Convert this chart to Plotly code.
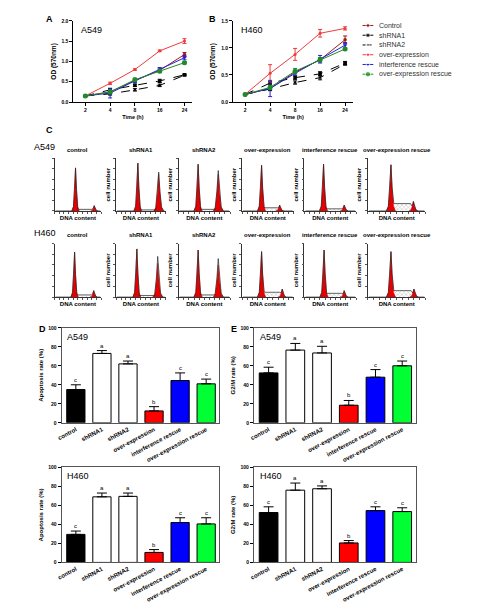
import plotly.graph_objects as go

W, H = 482, 608
FONT = "Liberation Sans, Arial, sans-serif"


def px(x):
    return x / W


def py(y):
    return 1 - y / H


# ---------------- data: growth curves (A, B) ----------------
time_labels = ["2", "4", "8", "16", "24"]
series_names = ["Control", "shRNA1", "shRNA2", "over-expression",
                "interference rescue", "over-expression rescue"]

a549_control = [0.15, 0.25, 0.53, 0.78, 1.17]
a549_shrna1 = [0.15, 0.30, 0.41, 0.52, 0.67]
a549_shrna2 = [0.15, 0.20, 0.30, 0.41, 0.66]
a549_over = [0.15, 0.46, 0.80, 1.26, 1.50]
a549_interf = [0.15, 0.22, 0.52, 0.80, 1.09]
a549_overres = [0.15, 0.25, 0.55, 0.76, 0.97]
a549_control_err = [0.01, 0.03, 0.03, 0.03, 0.05]
a549_shrna1_err = [0.01, 0.03, 0.03, 0.04, 0.02]
a549_shrna2_err = [0.01, 0.03, 0.03, 0.03, 0.02]
a549_over_err = [0.01, 0.03, 0.02, 0.02, 0.06]
a549_interf_err = [0.01, 0.12, 0.04, 0.05, 0.05]
a549_overres_err = [0.01, 0.05, 0.04, 0.03, 0.03]

h460_control = [0.14, 0.25, 0.55, 0.78, 1.15]
h460_shrna1 = [0.14, 0.35, 0.45, 0.52, 0.72]
h460_shrna2 = [0.14, 0.24, 0.36, 0.45, 0.70]
h460_over = [0.14, 0.53, 0.88, 1.27, 1.36]
h460_interf = [0.14, 0.25, 0.53, 0.79, 1.05]
h460_overres = [0.14, 0.27, 0.57, 0.78, 0.98]
h460_control_err = [0.01, 0.03, 0.03, 0.04, 0.07]
h460_shrna1_err = [0.01, 0.03, 0.03, 0.04, 0.03]
h460_shrna2_err = [0.01, 0.03, 0.03, 0.04, 0.02]
h460_over_err = [0.01, 0.16, 0.11, 0.07, 0.03]
h460_interf_err = [0.01, 0.15, 0.04, 0.07, 0.05]
h460_overres_err = [0.01, 0.04, 0.05, 0.04, 0.02]

# ---------------- data: cell cycle histograms (C) ----------------
hist_titles = ["control", "shRNA1", "shRNA2", "over-expression",
               "interference rescue", "over-expression rescue"]
a549_g1_pos = [0.45, 0.44, 0.38, 0.38, 0.37, 0.40]
a549_g1_h = [0.82, 0.91, 0.89, 0.87, 0.89, 0.88]
a549_g2_pos = [0.85, 0.86, 0.77, 0.73, 0.77, 0.79]
a549_g2_h = [0.10, 0.70, 0.70, 0.11, 0.11, 0.18]
a549_g2_fit = [0.10, 0.74, 0.77, 0.11, 0.11, 0.18]
a549_s_h = [0.03, 0.02, 0.03, 0.06, 0.04, 0.14]

h460_g1_pos = [0.43, 0.42, 0.38, 0.38, 0.38, 0.40]
h460_g1_h = [0.84, 0.90, 0.88, 0.85, 0.88, 0.85]
h460_g2_pos = [0.84, 0.84, 0.77, 0.78, 0.77, 0.80]
h460_g2_h = [0.12, 0.63, 0.60, 0.15, 0.12, 0.15]
h460_g2_fit = [0.12, 0.76, 0.72, 0.15, 0.12, 0.15]
h460_s_h = [0.04, 0.03, 0.04, 0.09, 0.07, 0.12]

# ---------------- data: apoptosis / G2M bars (D, E) ----------------
bar_categories = ["control", "shRNA1", "shRNA2", "over-expression",
                  "interference rescue", "over-expression rescue"]
bar_letters = ["c", "a", "a", "b", "c", "c"]
apop_a549 = [35, 73, 62, 12.5, 44.5, 41]
apop_a549_err = [5, 3, 3, 4.5, 8, 5]
apop_h460 = [29.5, 69, 69.5, 10.5, 42, 40.5]
apop_h460_err = [3.5, 4, 3.5, 3, 5, 6.5]
g2m_a549 = [52.5, 76.5, 73.5, 18.5, 48, 60]
g2m_a549_err = [6, 7, 7, 5, 8, 5]
g2m_h460 = [52.5, 76, 77.5, 20.5, 54.5, 53.5]
g2m_h460_err = [6, 7.5, 3, 2.5, 4, 4]

# ---------------- styles ----------------
line_colors = ["#9e1b1b", "#000000", "#000000", "#f03a3a", "#2323d8", "#1f8a2a"]
line_dash = ["solid", "dash", "dash", "solid", "solid", "solid"]
line_symbols = ["circle", "square", "triangle-up", "circle", "triangle-down", "circle"]
line_msize = [3.5, 3.5, 3.5, 3, 4, 5]
bar_colors = ["#000000", "#ffffff", "#ffffff", "#ff0000", "#0000ff", "#00ff33"]

fig = go.Figure()
axis_n = [0]
layout_upd = {}


def new_axes(x0, x1, y0, y1, xkw, ykw):
    axis_n[0] += 1
    n = axis_n[0]
    xa = "xaxis" if n == 1 else "xaxis%d" % n
    ya = "yaxis" if n == 1 else "yaxis%d" % n
    xr = "x" if n == 1 else "x%d" % n
    yr = "y" if n == 1 else "y%d" % n
    layout_upd[xa] = dict(domain=[px(x0), px(x1)], anchor=yr, **xkw)
    layout_upd[ya] = dict(domain=[py(y1), py(y0)], anchor=xr, **ykw)
    return xr, yr


annotations = []


def text(x, y, s, size=7, bold=False, xanchor="left", angle=0, color="black"):
    annotations.append(dict(
        x=px(x), y=py(y), xref="paper", yref="paper", text=("<b>%s</b>" % s) if bold else s,
        showarrow=False, xanchor=xanchor, yanchor="middle", textangle=angle,
        font=dict(family=FONT, size=size, color=color)))


# ---------------- growth curves ----------------
def growth_panel(x0, x1, y0, y1, ymax, ytick_vals, ytick_text, cell, series, errs):
    xkw = dict(type="category", range=[-0.48, 4.32], showline=True, linecolor="black",
               linewidth=1, ticks="outside", ticklen=3, tickcolor="black",
               tickfont=dict(family=FONT, size=5, weight="bold"), showgrid=False, zeroline=False,
               title=dict(text="<b>Time (h)</b>", font=dict(family=FONT, size=5.5), standoff=3))
    ykw = dict(range=[0, ymax], showline=True, linecolor="black", linewidth=1,
               ticks="outside", ticklen=3, tickcolor="black", tickvals=ytick_vals,
               ticktext=ytick_text, tickfont=dict(family=FONT, size=5, weight="bold"),
               showgrid=False, zeroline=False,
               title=dict(text="<b>OD (570nm)</b>", font=dict(family=FONT, size=6.5), standoff=4))
    xr, yr = new_axes(x0, x1, y0, y1, xkw, ykw)
    for i, name in enumerate(series_names):
        fig.add_trace(go.Scatter(
            x=time_labels, y=series[i], name=name, mode="lines+markers",
            line=dict(color=line_colors[i], width=1, dash=line_dash[i]),
            marker=dict(symbol=line_symbols[i], size=line_msize[i], color=line_colors[i]),
            error_y=dict(type="data", array=errs[i], color=line_colors[i], thickness=1, width=2),
            xaxis=xr, yaxis=yr, showlegend=False))
    text(x0 + 6, y0 + 9, cell, size=9)


growth_panel(70, 190, 18, 100, 2.0, [0, 0.5, 1.0, 1.5, 2.0], ["0.0", "0.5", "1.0", "1.5", "2.0"],
             "A549",
             [a549_control, a549_shrna1, a549_shrna2, a549_over, a549_interf, a549_overres],
             [a549_control_err, a549_shrna1_err, a549_shrna2_err, a549_over_err,
              a549_interf_err, a549_overres_err])
growth_panel(231, 352, 18, 100, 1.5, [0, 0.5, 1.0, 1.5], ["0.0", "0.5", "1.0", "1.5"],
             "H460",
             [h460_control, h460_shrna1, h460_shrna2, h460_over, h460_interf, h460_overres],
             [h460_control_err, h460_shrna1_err, h460_shrna2_err, h460_over_err,
              h460_interf_err, h460_overres_err])

# ---------------- compact legend (key axes, one row per series) ----------------
LEG_TOP, LEG_STEP = 22.7, 9.85
lxr, lyr = new_axes(361, 373, LEG_TOP - LEG_STEP / 2, LEG_TOP + LEG_STEP * 5.5,
                    dict(range=[0, 1], visible=False, fixedrange=True),
                    dict(range=[5.5, -0.5], visible=False, fixedrange=True))
for i, name in enumerate(series_names):
    fig.add_trace(go.Scatter(
        x=[0.05, 0.5, 0.95], y=[i, i, i], mode="lines+markers", name=name,
        line=dict(color=line_colors[i], width=1, dash="solid" if i != 2 else "dot"),
        marker=dict(symbol=line_symbols[i], size=[0, line_msize[i] + 0.5, 0], color=line_colors[i]),
        xaxis=lxr, yaxis=lyr, showlegend=False, hoverinfo="skip"))
    text(376, LEG_TOP + LEG_STEP * i, name, size=7, color="#333")

# ---------------- histograms ----------------
hist_left = [51, 113, 176, 240, 303, 367]
hist_width = [47, 50, 52, 52, 52, 58]
PEAK_DX = [-0.08, -0.045, -0.02, 0.0, 0.02, 0.045, 0.08]
PEAK_FY = [0.0, 0.1, 0.5, 1.0, 0.5, 0.1, 0.0]


def peak(pos, h, wscale=1.0):
    return [pos + d * wscale for d in PEAK_DX], [f * h for f in PEAK_FY]


def hist_panel(x0, w, y0, y1, title, g1p, g1h, g2p, g2h, g2f, sh, first):
    xkw = dict(range=[0, 1], showline=True, linecolor="#333", linewidth=0.8, ticks="outside",
               ticklen=2, tickcolor="#555", dtick=0.1, showticklabels=False, showgrid=False,
               zeroline=False,
               title=dict(text="<b>DNA content</b>", font=dict(family=FONT, size=6), standoff=2))
    ykw = dict(range=[0, 1], showline=True, linecolor="#333", linewidth=0.8, ticks="outside",
               ticklen=2, tickcolor="#555", dtick=0.2, showticklabels=False, showgrid=False,
               zeroline=False,
               title=dict(text="" if first else "<b>cell number</b>",
                          font=dict(family=FONT, size=6), standoff=2))
    xr, yr = new_axes(x0, x0 + w, y0, y1, xkw, ykw)
    g2w = 1.25 if g2h > 0.3 else 1.0
    s_left = g1p + 0.05
    s_right = g2p - 0.05 * g2w
    fig.add_trace(go.Scatter(
        x=[s_left, s_left, s_right, s_right], y=[0, sh, sh, 0], fill="toself", mode="none",
        fillcolor="rgba(255,255,255,0)",
        fillpattern=dict(shape="x", fgcolor="#777", size=3, solidity=0.3),
        xaxis=xr, yaxis=yr, showlegend=False, hoverinfo="skip"))
    for p, hh, ws in ((g1p, g1h, 1.0), (g2p, g2h, g2w)):
        xs, ys = peak(p, hh, ws)
        fig.add_trace(go.Scatter(x=xs, y=ys, fill="toself", mode="lines",
                                 line=dict(color="#d00000", width=0.5), fillcolor="#e80000",
                                 xaxis=xr, yaxis=yr, showlegend=False, hoverinfo="skip"))
    x1s, y1s = peak(g1p, g1h)
    x2s, y2s = peak(g2p, g2f, g2w)
    ox = [0.02] + x1s[:5] + [s_left, s_right] + x2s[2:] + [0.98]
    oy = [0.0] + y1s[:5] + [sh, sh] + y2s[2:] + [0.0]
    fig.add_trace(go.Scatter(x=ox, y=oy, mode="lines", line=dict(color="#222", width=0.7),
                             xaxis=xr, yaxis=yr, showlegend=False, hoverinfo="skip"))
    text(x0 + w / 2, y0 - 9, title, size=6, bold=True, xanchor="center")


for i in range(6):
    hist_panel(hist_left[i], hist_width[i], 157, 210, hist_titles[i], a549_g1_pos[i], a549_g1_h[i],
               a549_g2_pos[i], a549_g2_h[i], a549_g2_fit[i], a549_s_h[i], i == 0)
for i in range(6):
    hist_panel(hist_left[i], hist_width[i], 243, 297, hist_titles[i], h460_g1_pos[i], h460_g1_h[i],
               h460_g2_pos[i], h460_g2_h[i], h460_g2_fit[i], h460_s_h[i], i == 0)

text(28, 145, "A549", size=9)
text(28, 232, "H460", size=9)


# ---------------- bar charts ----------------
def bar_panel(x0, x1, y0, y1, vals, errs, cell, ytitle):
    xkw = dict(type="category", range=[-0.55, 5.5], showline=True, mirror=True, linecolor="#555",
               linewidth=1, ticks="", tickangle=-28,
               tickfont=dict(family=FONT, size=6, weight="bold"), showgrid=False, zeroline=False)
    ykw = dict(range=[0, 100], showline=True, mirror=True, linecolor="#555", linewidth=1,
               ticks="outside", ticklen=3, tickcolor="black", dtick=20,
               tickfont=dict(family=FONT, size=5, weight="bold"), showgrid=False, zeroline=False,
               title=dict(text="<b>%s</b>" % ytitle, font=dict(family=FONT, size=6), standoff=4))
    xr, yr = new_axes(x0, x1, y0, y1, xkw, ykw)
    fig.add_trace(go.Bar(
        x=bar_categories, y=vals, width=0.7, marker=dict(color=bar_colors,
                                                          line=dict(color="black", width=1)),
        error_y=dict(type="data", array=errs, arrayminus=[0] * len(errs), symmetric=False,
                     color="black", thickness=1, width=5),
        xaxis=xr, yaxis=yr, showlegend=False))
    for c, v, e, s in zip(bar_categories, vals, errs, bar_letters):
        annotations.append(dict(x=c, y=v + e, xref=xr, yref=yr, text=s, showarrow=False,
                                yanchor="bottom", yshift=0,
                                font=dict(family=FONT, size=6, color="black")))
    text(x0 + 4, y0 + 9, cell, size=9)


bar_panel(58, 217, 328, 424, apop_a549, apop_a549_err, "A549", "Apoptosis rate (%)")
bar_panel(252, 415, 328, 424, g2m_a549, g2m_a549_err, "A549", "G2/M rate (%)")
bar_panel(58, 217, 469, 565, apop_h460, apop_h460_err, "H460", "Apoptosis rate (%)")
bar_panel(252, 415, 469, 565, g2m_h460, g2m_h460_err, "H460", "G2/M rate (%)")

# panel letters
for s, x, y in (("A", 40, 16), ("B", 205, 16), ("C", 40, 128), ("D", 33, 329), ("E", 227, 329)):
    text(x, y, s, size=9, bold=True)

fig.update_layout(**layout_upd)
fig.update_layout(
    width=W, height=H, margin=dict(l=0, r=0, t=0, b=0), paper_bgcolor="white",
    plot_bgcolor="rgba(0,0,0,0)", font=dict(family=FONT, size=7, color="black"),
    annotations=annotations, barmode="overlay", showlegend=False,
)
fig.write_html("out.html")
